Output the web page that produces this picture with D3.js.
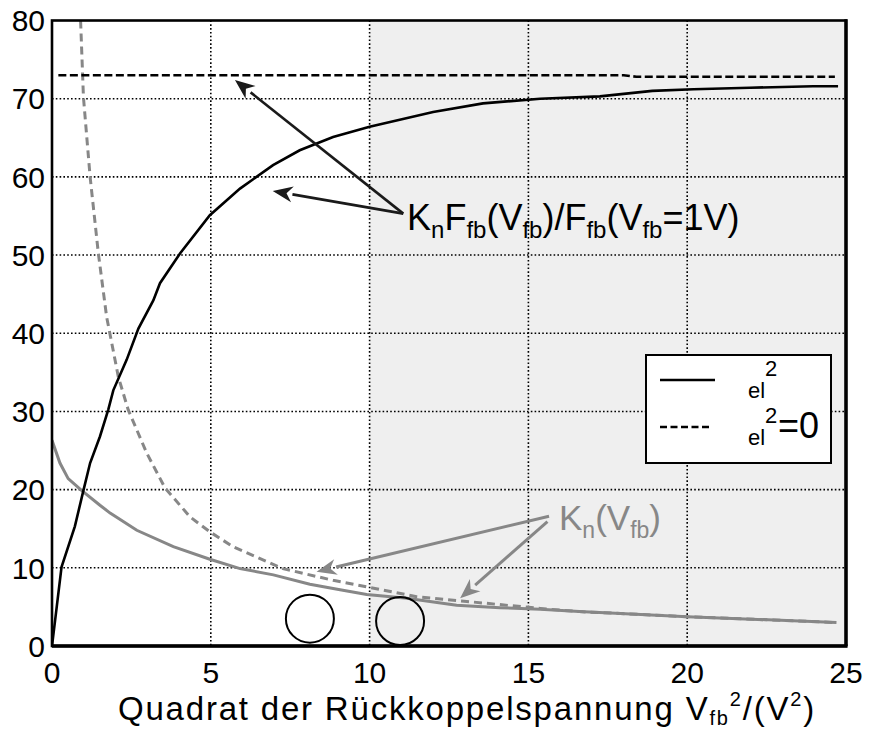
<!DOCTYPE html>
<html>
<head>
<meta charset="utf-8">
<script src="https://cdn.jsdelivr.net/npm/d3@7"></script>
<style>
  html, body { margin: 0; padding: 0; background: #fff; }
  svg text { font-family: "Liberation Sans", Arial, Helvetica, sans-serif; }
</style>
</head>
<body>
<svg id="chart" width="872" height="731"></svg>
<script>
// Normalised feedback force, with and without the noise term
const fbNoiseX = [0, 0.3, 0.72, 0.99, 1.2, 1.51, 1.77, 1.93, 2.35, 2.72, 3.19, 3.4, 4.03, 4.97, 5.92, 6.96, 7.8, 8.85, 10.0, 12.0, 13.57, 15.37, 17.25, 18.9, 20.2, 21.97, 23.96, 24.75];
const fbNoiseY = [0, 10.1, 15.3, 19.9, 23.4, 26.8, 30.2, 32.7, 36.6, 40.6, 44.2, 46.4, 50.2, 55.1, 58.5, 61.5, 63.4, 65.1, 66.4, 68.3, 69.4, 70.0, 70.3, 71.0, 71.2, 71.4, 71.6, 71.6];
const fbIdealX = [0.2, 18.0, 18.4, 24.65];
const fbIdealY = [73.0, 73.0, 72.8, 72.8];

// Gain factor K_n, with and without the noise term
const knNoiseX = [0, 0.25, 0.51, 0.93, 1.51, 1.83, 2.67, 3.82, 4.97, 5.92, 6.97, 8.12, 9.07, 9.91, 11.17, 12.74, 14.1, 15.37, 16.6, 20.0, 24.7];
const knNoiseY = [26.3, 23.4, 21.4, 19.9, 18.0, 17.0, 14.8, 12.7, 11.1, 9.9, 9.1, 7.9, 7.2, 6.6, 6.1, 5.2, 4.9, 4.7, 4.4, 3.75, 3.0];
const knIdealX = [0.9, 0.99, 1.2, 1.46, 1.72, 2.09, 2.4, 2.98, 3.56, 4.35, 4.97, 5.7, 7.27, 8.85, 10.0, 11.48, 13.06, 15.37, 16.6, 20.0, 24.7];
const knIdealY = [80, 70.2, 60.0, 50.2, 42.1, 34.4, 30.2, 24.7, 20.2, 16.5, 14.6, 12.7, 9.9, 8.4, 7.5, 6.3, 5.7, 4.8, 4.4, 3.75, 3.0];

// Axis ticks
const xTicks = [0, 5, 10, 15, 20, 25];
const yTicks = [0, 10, 20, 30, 40, 50, 60, 70, 80];

// Shaded operating range
const shadeFrom = [10, 25];

// Marked operating points
const markX = [8.12, 10.96];
const markY = [3.5, 3.2];

// Annotation arrows: [tailX, tailY, tipX, tipY]
const fbArrows = [[11.06, 55.3, 5.76, 72.4], [11.06, 55.3, 6.95, 58.2]];
const knArrows = [[15.65, 16.6, 8.33, 9.5], [15.6, 15.9, 12.85, 6.1]];

const svg = d3.select("#chart");
const L = 52, R = 846, T = 20.5, B = 646;
const x = d3.scaleLinear().domain([0, 25]).range([L, R]);
const y = d3.scaleLinear().domain([0, 80]).range([B, T]);

const GRAY = "#878787";

// shaded region
svg.append("rect")
  .attr("x", x(shadeFrom[0])).attr("y", T)
  .attr("width", x(shadeFrom[1]) - x(shadeFrom[0])).attr("height", B - T)
  .attr("fill", "#efefef");

// dotted grid
const grid = svg.append("g").attr("stroke", "#000").attr("stroke-width", 1.6).attr("stroke-dasharray", "1.6,2.2");
grid.selectAll("line.v").data(xTicks.filter(d => d > 0 && d < 25)).join("line")
  .attr("x1", d => x(d)).attr("x2", d => x(d)).attr("y1", T).attr("y2", B);
grid.selectAll("line.h").data(yTicks.filter(d => d > 0 && d < 80)).join("line")
  .attr("x1", L).attr("x2", R).attr("y1", d => y(d)).attr("y2", d => y(d));

// clip for curves
svg.append("clipPath").attr("id", "plotclip").append("rect")
  .attr("x", L).attr("y", T).attr("width", R - L).attr("height", B - T);

const line = d3.line().x(d => x(d[0])).y(d => y(d[1]));
const zip = (xs, ys) => xs.map((v, i) => [v, ys[i]]);
const curves = svg.append("g").attr("clip-path", "url(#plotclip)").attr("fill", "none");

curves.append("path").datum(zip(knIdealX, knIdealY)).attr("d", line)
  .attr("stroke", GRAY).attr("stroke-width", 3).attr("stroke-dasharray", "8,5");
curves.append("path").datum(zip(knNoiseX, knNoiseY)).attr("d", line)
  .attr("stroke", GRAY).attr("stroke-width", 3);
curves.append("path").datum(zip(fbIdealX, fbIdealY)).attr("d", line)
  .attr("stroke", "#000").attr("stroke-width", 2.6).attr("stroke-dasharray", "8,3.5");
curves.append("path").datum(zip(fbNoiseX, fbNoiseY)).attr("d", line)
  .attr("stroke", "#000").attr("stroke-width", 2.6);

// marked points
svg.append("g").selectAll("circle").data(markX.map((v, i) => [v, markY[i]])).join("circle")
  .attr("cx", d => x(d[0])).attr("cy", d => y(d[1])).attr("r", 24)
  .attr("fill", "none").attr("stroke", "#000").attr("stroke-width", 2);

// arrows
function arrow(g, a, color, width) {
  const x0 = x(a[0]), y0 = y(a[1]), x1 = x(a[2]), y1 = y(a[3]);
  const ang = Math.atan2(y1 - y0, x1 - x0);
  const len = 20, hw = 8;
  const bx = x1 - len * Math.cos(ang), by = y1 - len * Math.sin(ang);
  g.append("line").attr("x1", x0).attr("y1", y0).attr("x2", bx).attr("y2", by)
    .attr("stroke", color).attr("stroke-width", width);
  const px = -Math.sin(ang) * hw, py = Math.cos(ang) * hw;
  g.append("polygon")
    .attr("points", [[x1, y1], [bx + px, by + py], [bx + 0.3 * len * Math.cos(ang), by + 0.3 * len * Math.sin(ang)], [bx - px, by - py]].map(p => p.join(",")).join(" "))
    .attr("fill", color);
}
const arrows = svg.append("g");
fbArrows.forEach(a => arrow(arrows, a, "#1a1a1a", 2.6));
knArrows.forEach(a => arrow(arrows, a, GRAY, 3));

// frame
svg.append("rect").attr("x", L).attr("y", T).attr("width", R - L).attr("height", B - T)
  .attr("fill", "none").attr("stroke", "#000").attr("stroke-width", 2.6);
svg.append("line").attr("x1", L).attr("x2", R + 1.5).attr("y1", B).attr("y2", B)
  .attr("stroke", "#000").attr("stroke-width", 3.4);
svg.append("line").attr("x1", R).attr("x2", R).attr("y1", T - 1.3).attr("y2", B)
  .attr("stroke", "#000").attr("stroke-width", 3.4);

// tick labels
svg.append("g").selectAll("text").data(xTicks).join("text")
  .attr("x", d => x(d)).attr("y", 683).attr("text-anchor", "middle")
  .attr("font-size", 30).text(d => d);
svg.append("g").selectAll("text").data(yTicks).join("text")
  .attr("x", 45).attr("y", d => y(d)).attr("dy", "0.36em").attr("text-anchor", "end")
  .attr("font-size", 30).text(d => d);

// rich text helper: parts = [text, "n"|"sub"|"sup"]
function rich(tx, tyy, parts, size, subSize, color, subShift = 0.22) {
  const t = svg.append("text").attr("x", tx).attr("y", tyy).attr("font-size", size).attr("fill", color);
  let shift = 0;
  parts.forEach(([s, k]) => {
    const target = k === "sub" ? size * subShift : k === "sup" ? -size * 0.42 : 0;
    t.append("tspan").attr("dy", target - shift)
      .attr("font-size", k === "n" ? size : subSize).text(s);
    shift = target;
  });
  return t;
}

// axis title
rich(118, 720, [["Quadrat der Rückkoppelspannung V", "n"], ["fb", "sub"], ["2", "sup"], ["/(V", "n"], ["2", "sup"], [")", "n"]], 33, 20, "#000", 0.14)
  .attr("letter-spacing", 1.8);

// annotation labels
rich(407, 230, [["K", "n"], ["n", "sub"], ["F", "n"], ["fb", "sub"], ["(V", "n"], ["fb", "sub"], [")/F", "n"], ["fb", "sub"], ["(V", "n"], ["fb", "sub"], ["=1V)", "n"]], 36, 24, "#000");
rich(559, 530, [["K", "n"], ["n", "sub"], ["(V", "n"], ["fb", "sub"], [")", "n"]], 35, 23, GRAY);

// legend
const lg = svg.append("g");
lg.append("rect").attr("x", 646).attr("y", 355).attr("width", 185).attr("height", 108)
  .attr("fill", "#fff").attr("stroke", "#000").attr("stroke-width", 2);
lg.append("line").attr("x1", 660).attr("x2", 715).attr("y1", 380).attr("y2", 380)
  .attr("stroke", "#000").attr("stroke-width", 2.6);
lg.append("line").attr("x1", 660).attr("x2", 712).attr("y1", 427).attr("y2", 427)
  .attr("stroke", "#000").attr("stroke-width", 2.6).attr("stroke-dasharray", "7,3.5");
lg.append("text").attr("x", 748).attr("y", 398).attr("font-size", 22).text("el");
lg.append("text").attr("x", 765).attr("y", 376).attr("font-size", 22).text("2");
lg.append("text").attr("x", 748).attr("y", 445).attr("font-size", 22).text("el");
lg.append("text").attr("x", 765).attr("y", 423).attr("font-size", 22).text("2");
lg.append("text").attr("x", 778).attr("y", 438).attr("font-size", 36).text("=0");
</script>
</body>
</html>
